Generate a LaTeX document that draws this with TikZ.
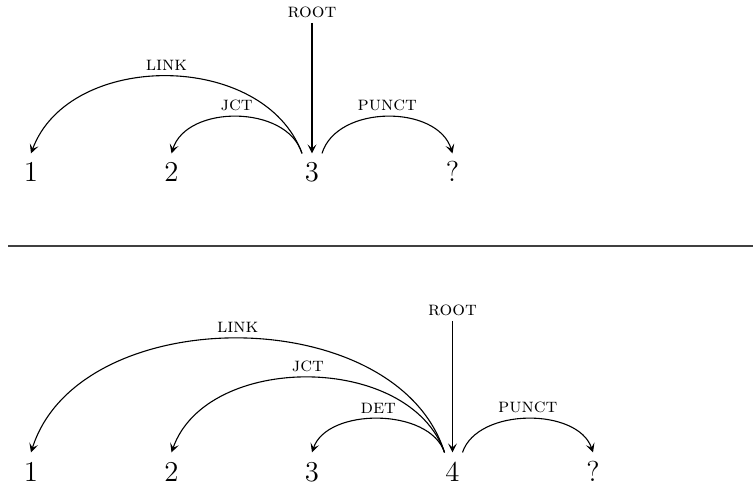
\documentclass[tikz,border=0pt]{standalone}
\usepackage{tikz}
\usetikzlibrary{arrows.meta, positioning}
\tikzstyle{word} = [font=\Large, inner sep=0pt, outer sep=5pt, text height=9.3pt, text depth=0pt, anchor=base]
\tikzstyle{rel} = [font=\normalsize\scshape, inner sep=2.5pt]
\tikzstyle{arc} = [line width=0.55pt,->,>={Stealth[length=4.5pt, width=4.5pt, inset=2pt]}]
\tikzstyle{rule} = [line width=0.6pt, black!75]

\begin{document}
\begin{tikzpicture}[x=0.5pt, y=-0.5pt]
  \useasboundingbox (0,0) rectangle (753,486);

  % First parse
  \node[word] (t1) at (31,182) {1};
  \node[word] (t2) at (171.5,182) {2};
  \node[word] (t3) at (312,182) {3};
  \node[word] (tq) at (452.5,182) {?};
  \node[rel] (troot) at (312,12) {root};

  \draw[arc] (troot) -- (t3);
  \draw[arc] ([xshift=-5pt]t3.north) .. controls +(-38,-103) and +(38,-103) .. node[rel, above] {link} (t1.north);
  \draw[arc] ([xshift=-5pt]t3.north) .. controls +(-15,-49) and +(15,-49) .. node[rel, above] {jct} (t2.north);
  \draw[arc] ([xshift=5pt]t3.north) .. controls +(15,-49) and +(-15,-49) .. node[rel, above] {punct} (tq.north);

  % Separator
  \draw[rule] (8,246) -- (753,246);

  % Second parse
  \node[word] (b1) at (31,481) {1};
  \node[word] (b2) at (171.5,481) {2};
  \node[word] (b3) at (312,481) {3};
  \node[word] (b4) at (452.5,481) {4};
  \node[word] (bq) at (593,481) {?};
  \node[rel] (broot) at (452.5,310) {root};

  \draw[arc] (broot) -- (b4);
  \draw[arc] ([xshift=-4pt]b4.north) .. controls +(-48,-152) and +(48,-152) .. node[rel, above] {link} (b1.north);
  \draw[arc] ([xshift=-4pt]b4.north) .. controls +(-35,-100) and +(35,-100) .. node[rel, above] {jct} (b2.north);
  \draw[arc] ([xshift=-4pt]b4.north) .. controls +(-15,-45) and +(15,-45) .. node[rel, above] {det} (b3.north);
  \draw[arc] ([xshift=5pt]b4.north) .. controls +(15,-45) and +(-15,-45) .. node[rel, above] {punct} (bq.north);
\end{tikzpicture}
\end{document}
